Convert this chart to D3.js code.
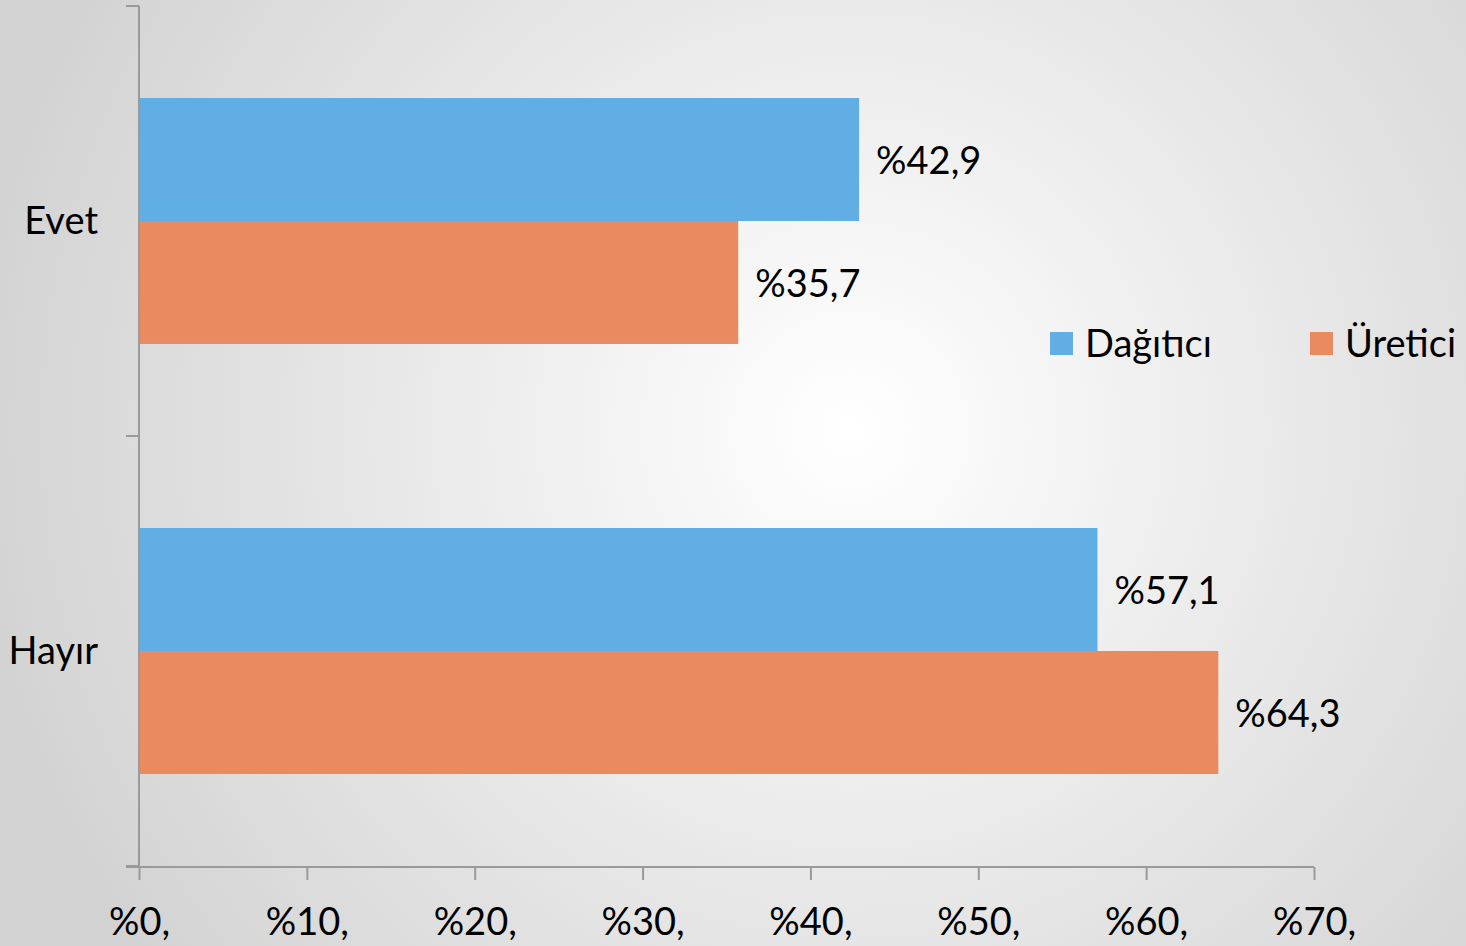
<!DOCTYPE html>
<html><head><meta charset="utf-8">
<script src="https://cdn.jsdelivr.net/npm/d3@7"></script>
<style>html,body{margin:0;padding:0;overflow:hidden;}svg{display:block;}</style>
</head><body>
<svg id="chart" width="1466" height="946"></svg>
<script>
const categories = ["Evet", "Hayır"];
const seriesNames = ["Dağıtıcı", "Üretici"];
const dagitici = [42.9, 57.1];
const uretici = [35.7, 64.3];
const xTicks = [0, 10, 20, 30, 40, 50, 60, 70];
const colors = ["#61aee4", "#ea8a60"];
const FONT = "Lato, 'Open Sans', sans-serif";
const FS = 38;

const svg = d3.select("#chart");
const W = 1466, H = 946;
const defs = svg.append("defs");
const grad = defs.append("radialGradient").attr("id", "bg")
  .attr("gradientUnits", "userSpaceOnUse")
  .attr("cx", 850).attr("cy", 430).attr("r", 900);
grad.append("stop").attr("offset", "0").attr("stop-color", "#ffffff");
grad.append("stop").attr("offset", "1").attr("stop-color", "#d2d2d2");
svg.append("rect").attr("width", W).attr("height", H).attr("fill", "url(#bg)");

const x = d3.scaleLinear().domain([0, 70]).range([139, 1314]);
const y = d3.scaleBand().domain(categories).range([6, 866]).paddingInner(0.428).paddingOuter(0.214);
const ySub = d3.scaleBand().domain(seriesNames).range([0, y.bandwidth()]);

const data = categories.map((c, i) => ({cat: c, vals: [dagitici[i], uretici[i]]}));

const g = svg.append("g");
data.forEach(d => {
  d.vals.forEach((v, j) => {
    const yy = y(d.cat) + ySub(seriesNames[j]);
    g.append("rect").attr("x", x(0)).attr("y", yy)
      .attr("width", x(v) - x(0)).attr("height", ySub.bandwidth())
      .attr("fill", colors[j]);
    g.append("text").attr("x", x(v) + 17).attr("y", yy + ySub.bandwidth() / 2 + 1)
      .attr("dy", "0.35em").attr("font-family", FONT).attr("font-size", FS)
      .attr("fill", "#000").text("%" + String(v).replace(".", ","));
  });
});

// Y axis
const yAxisG = svg.append("g");
yAxisG.append("line").attr("x1", 139).attr("x2", 139).attr("y1", 6).attr("y2", 867)
  .attr("stroke", "#9a9a9a").attr("stroke-width", 2);
const boundaries = [6, 436, 866];
boundaries.forEach(b => {
  yAxisG.append("line").attr("x1", 126).attr("x2", 139).attr("y1", b).attr("y2", b)
    .attr("stroke", "#9a9a9a").attr("stroke-width", 2);
});
categories.forEach(c => {
  yAxisG.append("text").attr("x", 98).attr("y", y(c) + y.bandwidth() / 2)
    .attr("dy", "0.35em").attr("text-anchor", "end").attr("font-family", FONT)
    .attr("font-size", FS).attr("fill", "#000").text(c);
});

// X axis
const xAxis = d3.axisBottom(x).tickValues(xTicks).tickSize(13).tickSizeOuter(0)
  .tickFormat(d => "%" + d + ",");
const xg = svg.append("g").attr("transform", "translate(0,867)").call(xAxis);
xg.select(".domain").attr("d", "M126,0H1314").attr("stroke", "#9a9a9a").attr("stroke-width", 2);
xg.selectAll(".tick line").attr("stroke", "#9a9a9a").attr("stroke-width", 2);
xg.selectAll(".tick text").attr("font-family", FONT).attr("font-size", FS)
  .attr("fill", "#000").attr("y", 55).attr("dy", "0.35em");

// Legend
const legend = svg.append("g");
const legX = [1050, 1310];
seriesNames.forEach((s, i) => {
  legend.append("rect").attr("x", legX[i]).attr("y", 332).attr("width", 23).attr("height", 23)
    .attr("fill", colors[i]);
  legend.append("text").attr("x", legX[i] + 35).attr("y", 343.5).attr("dy", "0.35em")
    .attr("font-family", FONT).attr("font-size", FS).attr("fill", "#000").text(s);
});
</script>
</body></html>
